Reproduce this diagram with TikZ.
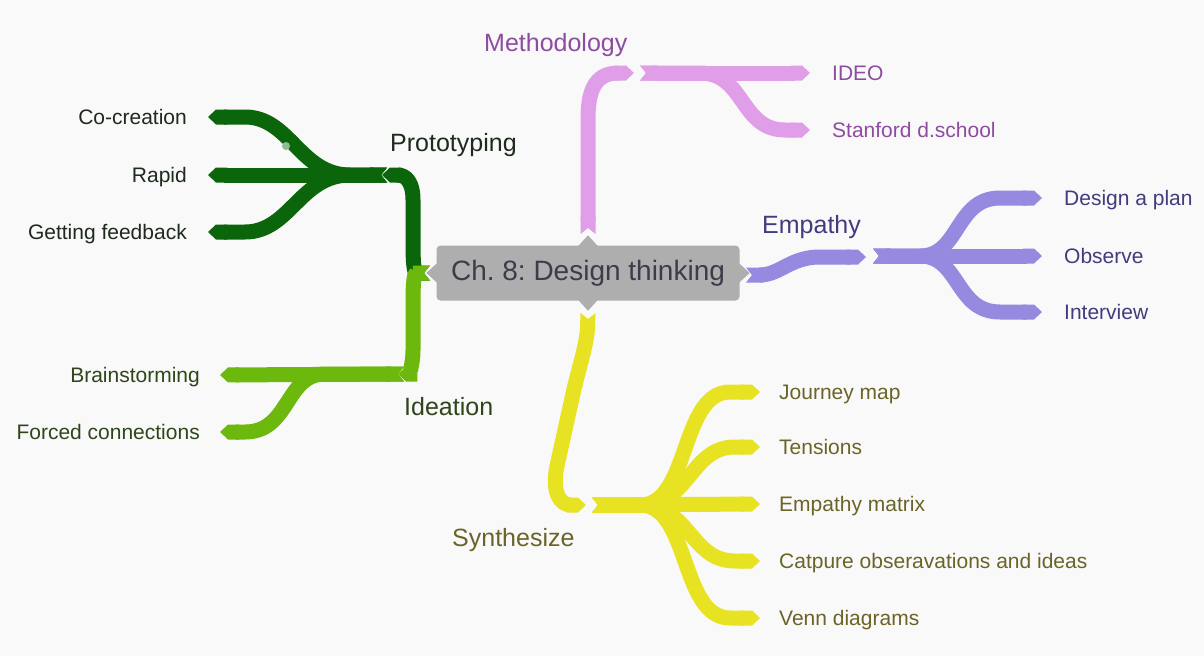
\documentclass[tikz,border=0pt]{standalone}
\usepackage{fontspec}
\setmainfont{Liberation Sans}
\usetikzlibrary{arrows.meta,positioning}
\frenchspacing

\definecolor{paper}{HTML}{F9F9F9}
\definecolor{hubgray}{HTML}{AEAEAE}
\definecolor{hubtext}{HTML}{3C3C4A}
\definecolor{protoband}{HTML}{0B660B}
\definecolor{prototext}{HTML}{1E2A1E}
\definecolor{ideaband}{HTML}{6CB80C}
\definecolor{ideatext}{HTML}{2F451A}
\definecolor{methband}{HTML}{E09EE8}
\definecolor{methtext}{HTML}{8E4CA0}
\definecolor{empband}{HTML}{9589E0}
\definecolor{emptext}{HTML}{413C7E}
\definecolor{synband}{HTML}{E8E322}
\definecolor{syntext}{HTML}{6B6428}

\begin{document}
\begin{tikzpicture}[x=1pt,y=-1pt,line join=round,
                    band/.style={line width=15pt,
                      {Triangle Cap[reversed,length=6pt]}-{Triangle Cap[length=8pt]}},
                    leaf/.style={font=\fontsize{21}{24}\selectfont,inner sep=0pt,
                      text height=15pt,text depth=0pt},
                    topic/.style={font=\fontsize{25}{28}\selectfont,inner sep=0pt,
                      text height=18pt,text depth=0pt,anchor=west}]
  \tikzstyle{hub}=[fill=hubgray,text=hubtext,rounded corners=4pt,
                   minimum width=303pt,minimum height=55pt,
                   font=\fontsize{28}{32}\selectfont]

  \fill[paper] (0,0) rectangle (1204,656);
  \useasboundingbox (0,0) rectangle (1204,656);

  % ports of the central topic and branch junctions
  \coordinate (hub-n) at (588,234);
  \coordinate (hub-s) at (588,313);
  \coordinate (hub-w) at (430,273);
  \coordinate (hub-e) at (746,275);
  \coordinate (proto) at (387,175);
  \coordinate (idea)  at (404,374);
  \coordinate (meth)  at (640,73);
  \coordinate (emp)   at (873,256);
  \coordinate (syn)   at (592,505);

  % leaf ends
  \coordinate (cocreation) at (208,117);
  \coordinate (rapid)      at (208,175);
  \coordinate (feedback)   at (208,232);
  \coordinate (brainstorm) at (220,375);
  \coordinate (forced)     at (220,432);
  \coordinate (ideo)       at (810,73);
  \coordinate (dschool)    at (810,130);
  \coordinate (plan)       at (1042,198);
  \coordinate (observe)    at (1042,256);
  \coordinate (interview)  at (1042,312);
  \coordinate (journey)    at (760,392);
  \coordinate (tensions)   at (760,447);
  \coordinate (matrix)     at (760,504);
  \coordinate (capture)    at (760,561);
  \coordinate (venn)       at (760,618);

  % Prototyping
  \draw[band,protoband] (hub-w) .. controls (414,273) and (413,262) .. (413,245)
        -- (413,200) .. controls (413,182) and (406,175) .. (382,175);
  \draw[band,protoband] (proto) -- (350,175) .. controls (300,175) and (290,117) .. (245,117) -- (cocreation);
  \draw[band,protoband] (proto) -- (rapid);
  \draw[band,protoband] (proto) -- (350,175) .. controls (300,175) and (290,232) .. (245,232) -- (feedback);
  \fill[protoband!45!white] (286,146) circle (4pt);

  % Ideation
  \draw[band,ideaband] (hub-w) .. controls (414,273) and (413,284) .. (413,300)
        -- (413,350) .. controls (413,368) and (407,374) .. (398,374);
  \draw[band,ideaband] (idea) -- (325,374) .. controls (285,374) and (290,432) .. (245,432) -- (forced);
  \draw[band,ideaband] (idea) -- (brainstorm);

  % Methodology
  \draw[band,methband] (hub-n) -- (588,118) .. controls (588,86) and (598,73) .. (634,73);
  \draw[band,methband] (meth) -- (ideo);
  \draw[band,methband] (meth) -- (700,73) .. controls (745,73) and (740,130) .. (785,130) -- (dschool);

  % Empathy
  \draw[band,empband] (hub-e) .. controls (780,275) and (790,257) .. (820,257) -- (866,257);
  \draw[band,empband] (emp) -- (observe);
  \draw[band,empband] (emp) -- (920,256) .. controls (960,256) and (955,198) .. (1000,198) -- (plan);
  \draw[band,empband] (emp) -- (920,256) .. controls (960,256) and (955,312) .. (1000,312) -- (interview);

  % Synthesize
  \draw[band,synband] (hub-s) .. controls (587,345) and (578,370) .. (572,398)
        -- (557,466) .. controls (551,495) and (562,505) .. (586,505);
  \draw[band,synband] (syn) -- (640,505) .. controls (690,505) and (680,392) .. (730,392) -- (journey);
  \draw[band,synband] (syn) -- (640,505) .. controls (690,505) and (690,447) .. (735,447) -- (tensions);
  \draw[band,synband] (syn) -- (matrix);
  \draw[band,synband] (syn) -- (640,505) .. controls (690,505) and (690,561) .. (735,561) -- (capture);
  \draw[band,synband] (syn) -- (640,505) .. controls (690,505) and (680,618) .. (730,618) -- (venn);

  % central topic
  \node[hub] (hub) at (588,273) {Ch. 8: Design thinking};
  \fill[hubgray] (hub.north) ++(-10,1) -- ++(10,-11) -- ++(10,11) -- cycle;
  \fill[hubgray] (hub.south) ++(-10,-1) -- ++(10,11) -- ++(10,-11) -- cycle;
  \fill[hubgray] (hub.west) ++(1,-10) -- ++(-11,10) -- ++(11,10) -- cycle;
  \fill[hubgray] (hub.east) ++(-1,-10) -- ++(11,10) -- ++(-11,10) -- cycle;

  % topic labels
  \node[topic,text=prototext] (proto-l) at (390,142) {Prototyping};
  \node[topic,text=ideatext]  (idea-l)  at (404,406) {Ideation};
  \node[topic,text=methtext]  (meth-l)  at (484,42)  {Methodology};
  \node[topic,text=emptext]   (emp-l)   at (762,224) {Empathy};
  \node[topic,text=syntext]   (syn-l)   at (452,537) {Synthesize};

  % leaf labels
  \node[leaf,text=prototext,left=21pt of cocreation] (cocreation-l) {Co-creation};
  \node[leaf,text=prototext,left=21pt of rapid]      (rapid-l)      {Rapid};
  \node[leaf,text=prototext,left=21pt of feedback]   (feedback-l)   {Getting feedback};
  \node[leaf,text=ideatext,left=20pt of brainstorm]  (brainstorm-l) {Brainstorming};
  \node[leaf,text=ideatext,left=20pt of forced]      (forced-l)     {Forced connections};
  \node[leaf,text=methtext,right=22pt of ideo]       (ideo-l)       {IDEO};
  \node[leaf,text=methtext,right=22pt of dschool]    (dschool-l)    {Stanford d.school};
  \node[leaf,text=emptext,right=22pt of plan]        (plan-l)       {Design a plan};
  \node[leaf,text=emptext,right=22pt of observe]     (observe-l)    {Observe};
  \node[leaf,text=emptext,right=22pt of interview]   (interview-l)  {Interview};
  \node[leaf,text=syntext,right=19pt of journey]     (journey-l)    {Journey map};
  \node[leaf,text=syntext,right=19pt of tensions]    (tensions-l)   {Tensions};
  \node[leaf,text=syntext,right=19pt of matrix]      (matrix-l)     {Empathy matrix};
  \node[leaf,text=syntext,right=19pt of capture]     (capture-l)    {Catpure obseravations and ideas};
  \node[leaf,text=syntext,right=19pt of venn]        (venn-l)       {Venn diagrams};
\end{tikzpicture}
\end{document}
